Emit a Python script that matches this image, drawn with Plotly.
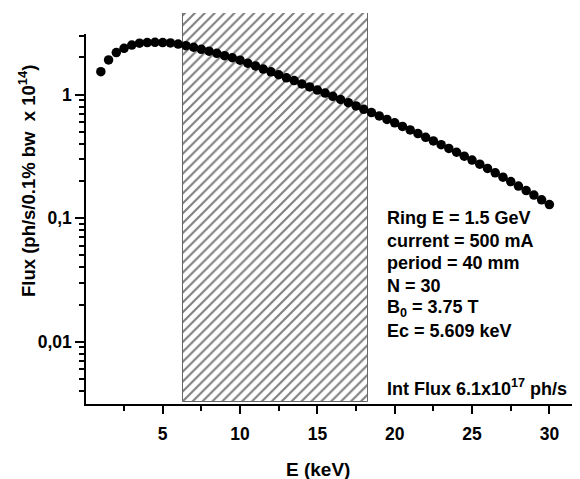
import plotly.graph_objects as go

# Data
energy_keV = [1.0, 1.5, 2.0, 2.5, 3.0, 3.5, 4.0, 4.5, 5.0, 5.5,
              6.0, 6.5, 7.0, 7.5, 8.0, 8.5, 9.0, 9.5, 10.0, 10.5,
              11.0, 11.5, 12.0, 12.5, 13.0, 13.5, 14.0, 14.5, 15.0, 15.5,
              16.0, 16.5, 17.0, 17.5, 18.0, 18.5, 19.0, 19.5, 20.0, 20.5,
              21.0, 21.5, 22.0, 22.5, 23.0, 23.5, 24.0, 24.5, 25.0, 25.5,
              26.0, 26.5, 27.0, 27.5, 28.0, 28.5, 29.0, 29.5, 30.0]
flux = [1.535, 1.91, 2.19, 2.37, 2.52, 2.61, 2.64, 2.65, 2.64, 2.62,
        2.57, 2.49, 2.42, 2.33, 2.25, 2.16, 2.07, 1.99, 1.90, 1.80,
        1.71, 1.61, 1.53, 1.45, 1.37, 1.30, 1.22, 1.156, 1.09, 1.03,
        0.97, 0.914, 0.861, 0.811, 0.762, 0.716, 0.673, 0.631, 0.592, 0.553,
        0.518, 0.484, 0.452, 0.422, 0.394, 0.367, 0.342, 0.318, 0.296, 0.274,
        0.253, 0.233, 0.215, 0.198, 0.182, 0.1675, 0.154, 0.141, 0.129]

band_start, band_end = 6.3, 18.25

y_tickvals = [0.01, 0.1, 1]
y_ticktext = ["0,01", "0,1", "1"]
x_tickvals = [5, 10, 15, 20, 25, 30]

info_lines = ["Ring E = 1.5 GeV", "current = 500 mA", "period = 40 mm", "N = 30",
              "B<sub>0</sub> = 3.75 T", "Ec = 5.609 keV", "Int Flux 6.1x10<sup>17</sup> ph/s"]
info_px = [218, 240.5, 263, 285.5, 308, 330.5, 387]

FONT = "Liberation Sans, Arial, sans-serif"

OFF = 8  # page body margin
W, H = 580 - OFF, 479 - OFF
ML, MR, MT, MB = 86 - OFF, 0, 13 - OFF, 479 - 404
plot_h = H - MT - MB
plot_w = W - ML - MR
def paper_y(py):
    return (479 - MB - py) / plot_h
def paper_x(px):
    return (px - 86) / plot_w

minor_y = [m * 10.0 ** d for d in (-3, -2, -1, 0) for m in range(2, 10)]
minor_y = [v for v in minor_y if 0.0031 < v < 3.1]

fig = go.Figure()

# hatched energy band (on an invisible linear axis extending higher than the log axis)
fig.add_trace(go.Bar(
    x=[(band_start + band_end) / 2], width=[band_end - band_start],
    base=[paper_y(401.7)], y=[1 - paper_y(401.7)], yaxis="y", xaxis="x",
    marker=dict(color="white", line=dict(color="#666666", width=1),
                pattern=dict(shape="/", fgcolor="black", bgcolor="white", size=7, solidity=0.3)),
    hoverinfo="skip", showlegend=False))

fig.add_trace(go.Scatter(
    x=energy_keV, y=flux, mode="markers", yaxis="y2", xaxis="x",
    marker=dict(color="black", size=9.5), showlegend=False))

fig.update_layout(
    width=W, height=H,
    margin=dict(l=ML, r=MR, t=MT, b=MB),
    paper_bgcolor="white", plot_bgcolor="rgba(0,0,0,0)",
    font=dict(family=FONT, color="black"),
    bargap=0,
    xaxis=dict(range=[0.04, 31.98], anchor="y2", showgrid=False, zeroline=False,
               showline=True, linecolor="black", linewidth=1.5,
               tickmode="array", tickvals=x_tickvals, ticks="outside", ticklen=8, tickwidth=1.5,
               tickcolor="black", ticklabelstandoff=5,
               tickfont=dict(size=17.5, weight="bold", family=FONT),
               minor=dict(tickmode="array", tickvals=[2.5, 7.5, 12.5, 17.5, 22.5, 27.5],
                          ticks="outside", ticklen=5, tickwidth=1.5, tickcolor="black")),
    yaxis=dict(domain=[0, 1], range=[0, 1], visible=False, fixedrange=True),
    yaxis2=dict(domain=[0, paper_y(34)], type="log", range=[-2.503, 0.491], anchor="x",
                showgrid=False, zeroline=False, showline=True, linecolor="black", linewidth=1.5,
                tickmode="array", tickvals=y_tickvals, ticktext=y_ticktext,
                ticks="outside", ticklen=9, tickwidth=1.5, tickcolor="black",
                tickfont=dict(size=17.5, weight="bold", family=FONT),
                minor=dict(tickmode="array", tickvals=minor_y, ticks="outside",
                           ticklen=5, tickwidth=1.5, tickcolor="black")),
)

for txt, py in zip(info_lines, info_px):
    fig.add_annotation(text=txt, xref="paper", x=paper_x(385), xanchor="left",
                       yref="paper", y=paper_y(py), yanchor="middle",
                       showarrow=False, font=dict(size=18, weight="bold", family=FONT))

fig.add_annotation(text="Flux (ph/s/0.1% bw&nbsp; x 10<sup>14</sup>)", textangle=-90,
                   xref="paper", x=paper_x(27), xanchor="center",
                   yref="paper", y=paper_y(181), yanchor="middle",
                   showarrow=False, font=dict(size=18.5, weight="bold", family=FONT))
fig.add_annotation(text="E (keV)", xref="paper", x=paper_x(318), xanchor="center",
                   yref="paper", y=paper_y(469), yanchor="middle",
                   showarrow=False, font=dict(size=19, weight="bold", family=FONT))

fig.write_html("out.html")
